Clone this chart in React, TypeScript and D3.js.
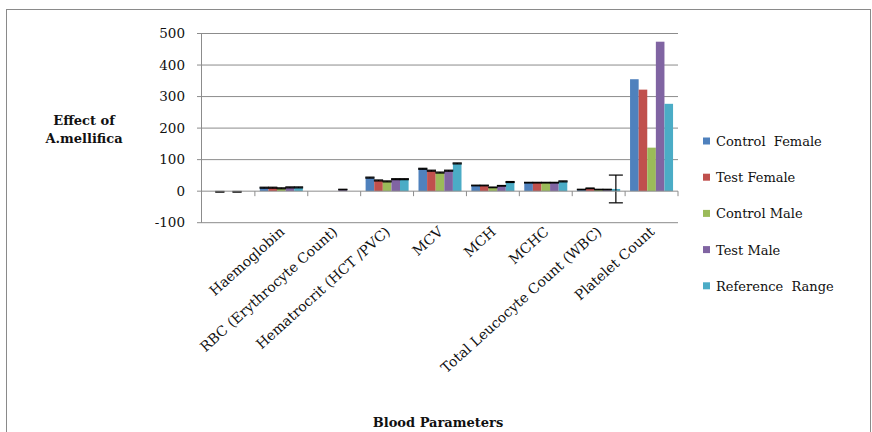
import React from "react";
import * as d3 from "d3";

const categories = [
  "",
  "Haemoglobin",
  "RBC (Erythrocyte Count)",
  "Hematrocrit (HCT /PVC)",
  "MCV",
  "MCH",
  "MCHC",
  "Total Leucocyte Count (WBC)",
  "Platelet Count",
];
const seriesNames = ["Control\u00A0 Female", "Test Female", "Control Male", "Test Male", "Reference\u00A0 Range"];
const controlFemale = [0, 11, 0, 43, 71, 18, 27, 5, 355];
const testFemale = [-2, 11, 0, 34, 65, 18, 27, 9, 322];
const controlMale = [0, 9, 0, 31, 59, 12, 27, 5, 138];
const testMale = [-2, 12, 5, 38, 65, 17, 27, 5, 474];
const referenceRange = [0, 12, 0, 38, 88, 29, 31, 7, 277];
const errControlFemale = [0, 1.5, 0, 1.5, 1.5, 1, 1, 1, 0];
const errTestFemale = [1, 1.5, 0, 1.5, 1.5, 1, 1, 1, 0];
const errControlMale = [0, 1.5, 0, 1.5, 1.5, 1, 1, 1, 0];
const errTestMale = [1, 1.5, 1, 1.5, 1.5, 1, 1, 1, 0];
const errReferenceRange = [0, 1.5, 0, 1.5, 1.5, 1.5, 1.5, 44, 0];
const yTicks = [-100, 0, 100, 200, 300, 400, 500];
const colors = ["#4F81BD", "#C0504D", "#9BBB59", "#8064A2", "#4BACC6"];

const series = [controlFemale, testFemale, controlMale, testMale, referenceRange];
const errors = [errControlFemale, errTestFemale, errControlMale, errTestMale, errReferenceRange];

const FONT = "'DejaVu Serif', serif";

export default function App() {
  const W = 872, H = 432;
  const x0 = 202, x1 = 678;
  const y = d3.scaleLinear().domain([-100, 500]).range([222.7, 33.5]);
  const x = d3.scaleBand<string>().domain(categories.map((c, i) => String(i))).range([x0, x1]).padding(0);
  const bw = 8.6;
  const inner = d3
    .scaleBand<number>()
    .domain([0, 1, 2, 3, 4])
    .range([(x.bandwidth() - 5 * bw) / 2, (x.bandwidth() + 5 * bw) / 2])
    .padding(0);

  return (
    <svg width={W} height={H} style={{ position: "absolute", left: 0, top: 0, background: "#fff" }}>
      <rect x={6.5} y={9.5} width={864} height={440} fill="#fff" stroke="#8a8a8a" strokeWidth={1} />
      {yTicks.map((t) => (
        <g key={t}>
          {t !== 0 && (
            <line x1={x0 - 5} x2={x1} y1={y(t)} y2={y(t)} stroke="#8c8c8c" strokeWidth={1} />
          )}
          <text
            x={185}
            y={y(t)}
            dy="0.35em"
            textAnchor="end"
            fontFamily={FONT}
            fontSize={13.5}
            fill="#111"
          >
            {t}
          </text>
        </g>
      ))}
      <line x1={x0 - 0.5} x2={x0 - 0.5} y1={y(500)} y2={y(-100)} stroke="#8c8c8c" strokeWidth={1} />
      {categories.map((c, ci) =>
        series.map((s, si) => {
          const v = s[ci];
          const bx = (x(String(ci)) as number) + (inner(si) as number);
          const top = Math.min(y(v), y(0));
          const h = Math.abs(y(v) - y(0));
          return (
            <rect key={`${ci}-${si}`} x={bx} y={top} width={bw} height={h} fill={colors[si]} />
          );
        })
      )}
      {categories.map((c, ci) =>
        series.map((s, si) => {
          const e = errors[si][ci];
          if (!e) return null;
          const v = s[ci];
          const cx = (x(String(ci)) as number) + (inner(si) as number) + bw / 2;
          const big = e > 10;
          const capW = big ? 7 : bw / 2 + 0.3;
          return (
            <g key={`e${ci}-${si}`} stroke="#000" strokeWidth={1.2}>
              <line x1={cx} x2={cx} y1={y(v + e)} y2={y(v - e)} />
              <line x1={cx - capW} x2={cx + capW} y1={y(v + e)} y2={y(v + e)} />
              <line x1={cx - capW} x2={cx + capW} y1={y(v - e)} y2={y(v - e)} />
            </g>
          );
        })
      )}
      <line x1={x0 - 5} x2={x1} y1={y(0)} y2={y(0)} stroke="#8c8c8c" strokeWidth={1} />
      {categories.map((c, ci) => {
        const tx = (x(String(ci)) as number) + x.bandwidth();
        return <line key={`t${ci}`} x1={tx} x2={tx} y1={y(0)} y2={y(0) + 5} stroke="#8c8c8c" />;
      })}
      {categories.map((c, ci) => {
        const cx = (x(String(ci)) as number) + x.bandwidth() / 2 + 4;
        return (
          <text
            key={`l${ci}`}
            transform={`translate(${cx},${233}) rotate(-42)`}
            textAnchor="end"
            fontFamily={FONT}
            fontSize={14}
            fill="#111"
          >
            {c}
          </text>
        );
      })}
      <text x={84} y={125} textAnchor="middle" fontFamily={FONT} fontWeight="bold" fontSize={13} fill="#111">
        Effect of
      </text>
      <text x={84} y={143} textAnchor="middle" fontFamily={FONT} fontWeight="bold" fontSize={13} fill="#111">
        A.mellifica
      </text>
      <text x={438} y={427} textAnchor="middle" fontFamily={FONT} fontWeight="bold" fontSize={13} fill="#111">
        Blood Parameters
      </text>
      {seriesNames.map((n, i) => {
        const ly = 141.5 + i * 36.2;
        return (
          <g key={n}>
            <rect x={703} y={ly - 4} width={7} height={7} fill={colors[i]} />
            <text x={716} y={ly} dy="0.35em" fontFamily={FONT} fontSize={13} fill="#111">
              {n}
            </text>
          </g>
        );
      })}
    </svg>
  );
}
